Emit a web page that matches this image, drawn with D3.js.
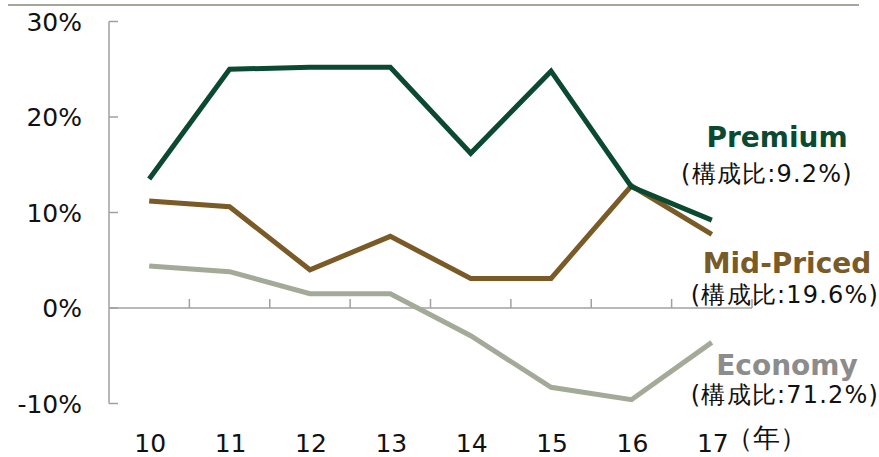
<!DOCTYPE html>
<html>
<head>
<meta charset="utf-8">
<script src="https://cdn.jsdelivr.net/npm/d3@7"></script>
<style>
  body { margin: 0; background: #fff; }
  text { font-family: "DejaVu Sans", Verdana, sans-serif; }
</style>
</head>
<body>
<div id="chart"></div>
<script>
// data
var years = ["10", "11", "12", "13", "14", "15", "16", "17"];
var premium = [13.5, 25.0, 25.2, 25.2, 16.2, 24.8, 12.7, 9.2];
var midPriced = [11.2, 10.6, 4.0, 7.5, 3.1, 3.1, 12.8, 7.7];
var economy = [4.4, 3.8, 1.5, 1.5, -2.9, -8.3, -9.6, -3.6];
var yTicks = [-10, 0, 10, 20, 30];
var seriesNames = ["Premium", "Mid-Priced", "Economy"];
var shareLabels = ["(構成比:9.2%)", "(構成比:19.6%)", "(構成比:71.2%)"];

var width = 879, height = 457;

var svg = d3.select("#chart").append("svg")
  .attr("width", width)
  .attr("height", height);

// top rule
svg.append("line")
  .attr("x1", 8).attr("x2", 859)
  .attr("y1", 5).attr("y2", 5)
  .attr("stroke", "#a4a79a")
  .attr("stroke-width", 2);

var x = d3.scaleBand().domain(years).range([109, 752]);
var y = d3.scaleLinear().domain([-10, 30]).range([403.5, 21.5]);

var axisColor = "#a0a0a0";

// y axis
svg.append("line")
  .attr("x1", 109).attr("x2", 109)
  .attr("y1", y(30)).attr("y2", y(-10))
  .attr("stroke", axisColor).attr("stroke-width", 1.5);
svg.selectAll(".ytick")
  .data(yTicks)
  .enter().append("line")
  .attr("x1", 109).attr("x2", 118)
  .attr("y1", function(d) { return y(d); })
  .attr("y2", function(d) { return y(d); })
  .attr("stroke", axisColor).attr("stroke-width", 1.5);
svg.selectAll(".ylabel")
  .data(yTicks)
  .enter().append("text")
  .attr("x", 82)
  .attr("y", function(d) { return y(d) + 9; })
  .attr("text-anchor", "end")
  .attr("font-size", "25px")
  .attr("fill", "#111")
  .text(function(d) { return d + "%"; });

// x axis at 0
svg.append("line")
  .attr("x1", 109).attr("x2", 752)
  .attr("y1", y(0)).attr("y2", y(0))
  .attr("stroke", axisColor).attr("stroke-width", 1.5);
svg.selectAll(".xtick")
  .data(years.slice(1))
  .enter().append("line")
  .attr("x1", function(d) { return x(d); })
  .attr("x2", function(d) { return x(d); })
  .attr("y1", y(0)).attr("y2", y(0) - 9)
  .attr("stroke", axisColor).attr("stroke-width", 1.5);
svg.append("line")
  .attr("x1", 752).attr("x2", 752)
  .attr("y1", y(0)).attr("y2", y(0) - 9)
  .attr("stroke", axisColor).attr("stroke-width", 1.5);
svg.selectAll(".xlabel")
  .data(years)
  .enter().append("text")
  .attr("x", function(d) { return x(d) + x.bandwidth() / 2 + 1; })
  .attr("y", 452)
  .attr("text-anchor", "middle")
  .attr("font-size", "25px")
  .attr("fill", "#111")
  .text(function(d) { return d; });
svg.append("text")
  .attr("x", 726).attr("y", 447)
  .attr("font-size", "27px")
  .attr("font-family", "Noto Sans CJK JP")
  .attr("fill", "#111")
  .text("（年）");

// lines
var colors = ["#0b4a30", "#7a5a26", "#a3aa98"];
var labelColors = ["#0b4a30", "#7a5a26", "#8c8c8c"];
var allSeries = [premium, midPriced, economy];

var line = d3.line()
  .x(function(d, i) { return x(years[i]) + x.bandwidth() / 2; })
  .y(function(d) { return y(d); });

// draw economy first so premium sits on top
[2, 1, 0].forEach(function(k) {
  svg.append("path")
    .datum(allSeries[k])
    .attr("d", line)
    .attr("fill", "none")
    .attr("stroke", colors[k])
    .attr("stroke-width", 5)
    .attr("stroke-linejoin", "miter");
});

// labels
var labelPos = [
  { x: 777, y: 147, sx: 766, sy: 182 },
  { x: 787, y: 273, sx: 784, sy: 303 },
  { x: 787, y: 375, sx: 784, sy: 403 }
];
seriesNames.forEach(function(name, k) {
  svg.append("text")
    .attr("x", labelPos[k].x).attr("y", labelPos[k].y)
    .attr("text-anchor", "middle")
    .attr("font-size", "28px")
    .attr("font-weight", "bold")
    .attr("fill", labelColors[k])
    .text(name);
  svg.append("text")
    .attr("x", labelPos[k].sx + 1).attr("y", labelPos[k].sy)
    .attr("text-anchor", "middle")
    .attr("font-size", "24px")
    .attr("letter-spacing", "1.2px")
    .attr("fill", "#111")
    .text(shareLabels[k]);
});
</script>
</body>
</html>
